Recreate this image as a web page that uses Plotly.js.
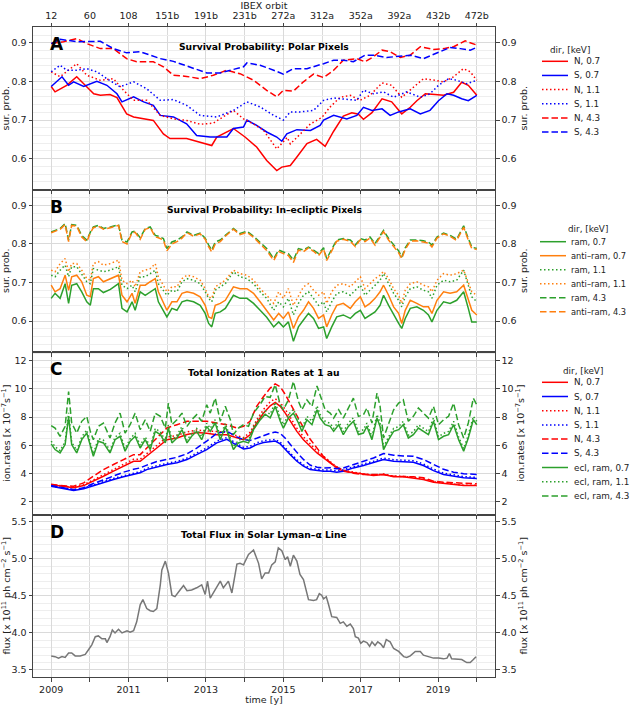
<!DOCTYPE html>
<html>
<head>
<meta charset="utf-8">
<script src="https://cdn.plot.ly/plotly-3.0.1.min.js"></script>
<style>
  html, body { margin: 0; padding: 0; background: #fff; }
  #chart { width: 630px; height: 705px; }
</style>
</head>
<body>
<div id="chart"></div>
<script>
// ---------- axis labels ----------
const years = [2009, 2010, 2011, 2012, 2013, 2014, 2015, 2016, 2017, 2018, 2019, 2020];
const labelYears = [2009, 2011, 2013, 2015, 2017, 2019];
const orbitLabels = ['12', '60', '108', '151b', '191b', '231b', '272a', '312a', '352a', '392a', '432b', '472b'];
const probTicks = [0.6, 0.7, 0.8, 0.9];
const probLabels = ['0.6', '0.7', '0.8', '0.9'];
const rateTicks = [2, 4, 6, 8, 10, 12];
const fluxTicks = [3.5, 4.0, 4.5, 5.0, 5.5];
const fluxLabels = ['3.5', '4.0', '4.5', '5.0', '5.5'];

// ---------- A: survival probability, polar pixels ----------
const tPolN07 = [2009.0,2009.1,2009.4,2009.66,2009.84,2010.1,2010.27,2010.52,2010.7,2010.95,2011.13,2011.39,2011.64,2011.9,2012.07,2012.5,2012.85,2013.15,2013.28,2013.71,2014.01,2014.31,2014.57,2014.83,2014.96,2015.18,2015.35,2015.61,2015.86,2016.08,2016.3,2016.55,2016.77,2016.94,2017.07,2017.29,2017.55,2017.8,2018.06,2018.28,2018.45,2018.67,2018.92,2019.14,2019.4,2019.61,2019.78,2020.0];
const pPolN07 = [0.787,0.773,0.79,0.812,0.794,0.768,0.764,0.766,0.758,0.716,0.708,0.703,0.699,0.664,0.652,0.652,0.643,0.634,0.656,0.678,0.656,0.63,0.595,0.569,0.578,0.582,0.604,0.639,0.65,0.632,0.671,0.71,0.719,0.715,0.702,0.719,0.755,0.747,0.716,0.733,0.75,0.768,0.766,0.764,0.772,0.798,0.79,0.764];
const tPolS07 = [2009.0,2009.28,2009.45,2009.58,2009.84,2010.18,2010.44,2010.7,2010.83,2011.13,2011.39,2011.64,2011.82,2012.16,2012.5,2012.76,2013.11,2013.54,2013.71,2013.97,2014.06,2014.31,2014.57,2014.83,2014.96,2015.09,2015.35,2015.7,2015.95,2016.04,2016.3,2016.64,2016.9,2017.07,2017.29,2017.55,2017.76,2017.98,2018.28,2018.54,2018.79,2019.01,2019.23,2019.4,2019.61,2019.78,2020.0];
const pPolS07 = [0.787,0.812,0.79,0.799,0.787,0.80,0.79,0.768,0.747,0.76,0.747,0.738,0.712,0.708,0.69,0.66,0.656,0.656,0.678,0.682,0.70,0.686,0.669,0.656,0.645,0.664,0.675,0.673,0.686,0.70,0.712,0.703,0.712,0.733,0.725,0.729,0.712,0.721,0.729,0.716,0.725,0.75,0.768,0.764,0.755,0.75,0.764];
const tPolN11 = [2009.0,2009.23,2009.66,2009.92,2010.27,2010.61,2010.87,2011.13,2011.47,2011.82,2012.16,2012.5,2012.85,2013.19,2013.71,2013.97,2014.23,2014.49,2014.83,2014.96,2015.1,2015.18,2015.43,2015.7,2016.0,2016.2,2016.47,2016.73,2016.98,2017.24,2017.55,2017.8,2018.06,2018.28,2018.62,2018.92,2019.14,2019.4,2019.65,2019.83,2020.0];
const pPolN11 = [0.825,0.812,0.846,0.816,0.803,0.807,0.777,0.751,0.751,0.712,0.703,0.699,0.689,0.692,0.725,0.703,0.69,0.673,0.625,0.64,0.655,0.638,0.664,0.69,0.707,0.733,0.759,0.764,0.751,0.764,0.796,0.79,0.759,0.777,0.807,0.803,0.799,0.812,0.833,0.825,0.803];
const tPolS11 = [2009.0,2009.23,2009.4,2009.66,2009.92,2010.18,2010.44,2010.78,2011.13,2011.47,2011.82,2012.16,2012.5,2012.85,2013.28,2013.71,2014.06,2014.4,2014.75,2015.0,2015.18,2015.43,2015.78,2016.04,2016.3,2016.64,2016.9,2017.07,2017.33,2017.59,2017.85,2018.19,2018.54,2018.79,2019.01,2019.27,2019.48,2019.74,2020.0];
const pPolS11 = [0.825,0.842,0.829,0.829,0.833,0.825,0.807,0.786,0.799,0.781,0.751,0.753,0.738,0.712,0.708,0.725,0.747,0.734,0.712,0.70,0.721,0.721,0.725,0.751,0.757,0.753,0.751,0.777,0.768,0.773,0.759,0.773,0.759,0.768,0.79,0.807,0.803,0.794,0.803];
const tPolN43 = [2009.0,2009.32,2009.66,2009.92,2010.27,2010.61,2010.95,2011.21,2011.64,2011.9,2012.16,2012.5,2012.85,2013.19,2013.54,2013.88,2014.23,2014.57,2014.83,2015.0,2015.26,2015.52,2015.78,2016.04,2016.3,2016.55,2016.9,2017.11,2017.33,2017.55,2017.76,2018.02,2018.28,2018.54,2018.88,2019.14,2019.4,2019.7,2020.0];
const pPolN43 = [0.898,0.903,0.911,0.898,0.885,0.885,0.859,0.851,0.851,0.838,0.816,0.813,0.807,0.816,0.829,0.82,0.803,0.777,0.76,0.777,0.775,0.799,0.819,0.81,0.829,0.855,0.859,0.851,0.864,0.881,0.877,0.862,0.868,0.89,0.883,0.885,0.89,0.905,0.894];
const tPolS43 = [2009.0,2009.23,2009.66,2010.27,2010.61,2010.95,2011.3,2011.82,2012.16,2012.59,2013.02,2013.37,2013.71,2013.97,2014.06,2014.4,2014.75,2015.0,2015.26,2015.61,2016.04,2016.3,2016.55,2016.81,2017.11,2017.33,2017.67,2018.02,2018.28,2018.62,2018.97,2019.31,2019.57,2019.83,2020.0];
const pPolS43 = [0.898,0.909,0.903,0.904,0.885,0.874,0.877,0.859,0.852,0.838,0.822,0.822,0.831,0.838,0.848,0.842,0.829,0.819,0.833,0.833,0.846,0.855,0.855,0.851,0.868,0.868,0.862,0.865,0.868,0.859,0.874,0.888,0.885,0.881,0.888];

// ---------- B: survival probability, in-ecliptic pixels ----------
const tEcl = [2009.0,2009.1,2009.23,2009.36,2009.45,2009.53,2009.66,2009.79,2009.92,2010.01,2010.09,2010.22,2010.35,2010.53,2010.74,2010.83,2010.96,2011.09,2011.17,2011.3,2011.43,2011.56,2011.69,2011.77,2011.9,2011.99,2012.12,2012.25,2012.38,2012.51,2012.68,2012.85,2012.98,2013.07,2013.15,2013.24,2013.37,2013.5,2013.71,2013.88,2014.06,2014.23,2014.4,2014.57,2014.75,2014.88,2015.0,2015.13,2015.26,2015.39,2015.52,2015.65,2015.78,2015.91,2016.04,2016.12,2016.25,2016.38,2016.55,2016.73,2016.86,2016.99,2017.11,2017.24,2017.37,2017.5,2017.59,2017.72,2017.85,2017.98,2018.06,2018.15,2018.28,2018.45,2018.62,2018.75,2018.84,2018.97,2019.14,2019.31,2019.48,2019.66,2019.78,2019.87,2020.0];
const pRam07 = [0.659,0.672,0.659,0.697,0.646,0.693,0.697,0.676,0.65,0.641,0.684,0.684,0.674,0.682,0.697,0.633,0.624,0.65,0.628,0.676,0.667,0.676,0.684,0.65,0.628,0.611,0.633,0.628,0.65,0.654,0.65,0.641,0.62,0.594,0.585,0.62,0.624,0.633,0.667,0.659,0.659,0.646,0.628,0.61,0.585,0.598,0.585,0.598,0.548,0.585,0.603,0.62,0.607,0.581,0.585,0.555,0.585,0.611,0.616,0.607,0.62,0.628,0.607,0.616,0.624,0.641,0.667,0.641,0.616,0.594,0.581,0.607,0.633,0.637,0.628,0.616,0.598,0.628,0.65,0.646,0.654,0.676,0.633,0.598,0.598];
const pAnti07 = [0.693,0.676,0.684,0.719,0.68,0.715,0.719,0.702,0.667,0.663,0.71,0.715,0.702,0.71,0.719,0.667,0.65,0.672,0.646,0.693,0.693,0.702,0.71,0.676,0.65,0.628,0.65,0.65,0.672,0.676,0.672,0.663,0.641,0.611,0.607,0.641,0.646,0.654,0.689,0.684,0.684,0.672,0.65,0.628,0.603,0.62,0.607,0.624,0.581,0.611,0.628,0.65,0.633,0.607,0.616,0.585,0.616,0.641,0.646,0.633,0.65,0.663,0.637,0.646,0.659,0.676,0.693,0.667,0.637,0.62,0.594,0.628,0.654,0.646,0.637,0.637,0.62,0.654,0.676,0.672,0.676,0.693,0.659,0.628,0.616];
const pRam11 = [0.719,0.715,0.732,0.745,0.715,0.741,0.741,0.723,0.702,0.697,0.736,0.732,0.728,0.732,0.741,0.693,0.684,0.693,0.676,0.715,0.715,0.723,0.732,0.697,0.68,0.667,0.68,0.676,0.702,0.71,0.706,0.697,0.676,0.659,0.65,0.68,0.689,0.697,0.728,0.715,0.71,0.697,0.676,0.659,0.628,0.65,0.637,0.659,0.616,0.646,0.667,0.676,0.659,0.641,0.65,0.624,0.65,0.672,0.676,0.667,0.68,0.693,0.667,0.68,0.693,0.706,0.723,0.697,0.672,0.654,0.637,0.663,0.684,0.689,0.68,0.676,0.659,0.693,0.706,0.702,0.706,0.732,0.689,0.663,0.65];
const pAnti11 = [0.732,0.728,0.749,0.762,0.728,0.749,0.749,0.732,0.71,0.706,0.749,0.754,0.745,0.749,0.758,0.706,0.697,0.706,0.689,0.728,0.732,0.736,0.749,0.715,0.693,0.676,0.689,0.689,0.71,0.719,0.715,0.706,0.684,0.663,0.659,0.689,0.697,0.706,0.732,0.723,0.719,0.706,0.684,0.667,0.646,0.676,0.659,0.684,0.641,0.667,0.689,0.697,0.68,0.667,0.676,0.646,0.676,0.693,0.697,0.689,0.702,0.715,0.684,0.697,0.71,0.719,0.729,0.71,0.684,0.667,0.646,0.68,0.697,0.702,0.693,0.689,0.676,0.706,0.723,0.719,0.723,0.732,0.702,0.676,0.667];
const pRam43 = [0.831,0.835,0.84,0.853,0.81,0.85,0.848,0.822,0.81,0.83,0.844,0.848,0.84,0.844,0.85,0.81,0.805,0.831,0.833,0.816,0.84,0.844,0.822,0.82,0.814,0.788,0.805,0.81,0.818,0.831,0.822,0.828,0.815,0.797,0.784,0.805,0.81,0.822,0.84,0.827,0.833,0.82,0.805,0.788,0.762,0.784,0.779,0.775,0.758,0.788,0.784,0.792,0.784,0.775,0.79,0.762,0.786,0.81,0.814,0.81,0.797,0.814,0.81,0.818,0.801,0.82,0.835,0.814,0.797,0.782,0.766,0.79,0.81,0.81,0.808,0.805,0.797,0.818,0.828,0.822,0.812,0.847,0.814,0.792,0.788];
const pAnti43 = [0.829,0.833,0.838,0.85,0.806,0.848,0.846,0.818,0.806,0.828,0.842,0.846,0.838,0.842,0.848,0.806,0.8,0.829,0.83,0.812,0.838,0.842,0.818,0.816,0.81,0.782,0.8,0.806,0.815,0.829,0.82,0.826,0.812,0.792,0.779,0.8,0.806,0.82,0.838,0.824,0.83,0.817,0.8,0.783,0.757,0.78,0.775,0.77,0.752,0.784,0.78,0.79,0.781,0.77,0.787,0.757,0.782,0.807,0.812,0.807,0.793,0.811,0.806,0.815,0.797,0.817,0.832,0.81,0.793,0.777,0.762,0.786,0.807,0.808,0.805,0.802,0.792,0.815,0.826,0.82,0.809,0.843,0.81,0.788,0.786];

// ---------- C: total ionization rates at 1 au [1e-7 s^-1] ----------
const tPole = [2009.0,2009.23,2009.58,2009.84,2010.09,2010.35,2010.61,2010.87,2011.13,2011.3,2011.47,2011.73,2011.99,2012.25,2012.51,2012.76,2013.02,2013.28,2013.54,2013.8,2013.97,2014.14,2014.31,2014.49,2014.66,2014.79,2014.92,2015.05,2015.18,2015.35,2015.52,2015.69,2015.87,2016.04,2016.21,2016.38,2016.55,2016.81,2017.07,2017.33,2017.59,2017.85,2018.1,2018.36,2018.62,2018.88,2019.14,2019.4,2019.66,2020.0];
const rN07 = [3.2,3.1,2.99,3.15,3.46,3.81,4.17,4.52,4.87,4.87,5.23,5.81,6.4,6.52,6.76,6.9,6.85,6.75,6.75,6.52,6.4,6.75,7.58,8.29,8.8,9.04,8.76,8.28,7.7,6.99,6.4,5.93,5.46,5.11,4.76,4.4,4.17,4.05,3.93,3.86,3.93,3.77,3.77,3.7,3.58,3.39,3.3,3.22,3.15,3.15];
const rS07 = [3.1,2.99,2.8,2.92,3.15,3.34,3.58,3.77,3.93,4.05,4.28,4.47,4.64,4.76,4.99,5.34,5.7,6.17,6.43,6.0,5.74,5.81,6.05,6.2,6.28,6.3,6.1,5.7,5.34,4.87,4.52,4.28,4.21,4.17,4.17,4.1,4.17,4.4,4.57,4.76,4.99,4.87,4.82,4.8,4.57,4.21,3.93,3.81,3.7,3.65];
const rN11 = [3.22,3.12,3.02,3.2,3.55,3.92,4.3,4.66,5.02,5.02,5.4,5.98,6.58,6.7,6.95,7.08,7.03,6.93,6.92,6.68,6.55,6.92,7.8,8.55,9.08,9.3,9.02,8.55,7.95,7.22,6.6,6.1,5.6,5.22,4.85,4.48,4.24,4.1,3.98,3.9,3.97,3.81,3.8,3.73,3.61,3.42,3.33,3.25,3.18,3.18];
const rS11 = [3.14,3.03,2.85,2.98,3.22,3.42,3.66,3.86,4.02,4.14,4.37,4.56,4.73,4.86,5.1,5.45,5.82,6.3,6.55,6.12,5.86,5.93,6.18,6.33,6.4,6.42,6.22,5.82,5.45,4.98,4.62,4.38,4.3,4.26,4.26,4.2,4.27,4.5,4.68,4.87,5.1,4.98,4.93,4.91,4.68,4.32,4.03,3.91,3.79,3.73];
const rN43 = [3.25,3.15,3.1,3.34,3.81,4.28,4.64,4.99,5.34,5.34,5.81,6.52,7.23,7.46,7.7,7.7,7.7,7.58,7.46,7.23,7.34,7.7,8.76,9.46,10.05,10.35,10.15,9.6,8.9,8.1,7.25,6.45,5.8,5.2,4.78,4.45,4.22,4.02,3.93,3.93,3.93,3.81,3.81,3.77,3.7,3.46,3.39,3.34,3.3,3.27];
const rS43 = [3.15,3.02,2.85,3.0,3.3,3.55,3.85,4.1,4.3,4.4,4.6,4.85,5.0,5.15,5.4,5.8,6.3,6.85,7.0,6.6,6.4,6.35,6.5,6.7,6.85,6.95,6.85,6.5,6.05,5.5,5.0,4.6,4.45,4.4,4.42,4.35,4.4,4.62,4.88,5.1,5.42,5.3,5.25,5.22,5.0,4.65,4.3,4.1,3.98,3.94];
const tRam = [2009.0,2009.1,2009.23,2009.36,2009.45,2009.53,2009.66,2009.79,2009.92,2010.01,2010.09,2010.22,2010.35,2010.52,2010.65,2010.78,2010.91,2011.04,2011.17,2011.3,2011.43,2011.56,2011.69,2011.82,2011.95,2012.03,2012.12,2012.25,2012.38,2012.51,2012.63,2012.76,2012.89,2013.02,2013.11,2013.24,2013.37,2013.5,2013.63,2013.71,2013.84,2013.97,2014.1,2014.23,2014.4,2014.53,2014.66,2014.79,2014.92,2015.0,2015.13,2015.26,2015.39,2015.48,2015.61,2015.74,2015.87,2015.95,2016.08,2016.21,2016.3,2016.43,2016.55,2016.68,2016.81,2016.94,2017.07,2017.16,2017.29,2017.42,2017.5,2017.59,2017.72,2017.85,2017.98,2018.1,2018.23,2018.36,2018.49,2018.62,2018.75,2018.88,2019.01,2019.14,2019.27,2019.4,2019.53,2019.66,2019.78,2019.91,2020.0];
const rRam07 = [6.1,5.7,5.46,6.05,8.0,6.05,5.46,6.4,6.87,5.93,5.22,6.29,6.17,5.46,6.4,6.64,5.58,6.29,6.64,5.81,6.4,5.7,6.99,6.76,6.17,7.23,6.17,6.52,7.11,6.17,6.64,6.99,6.4,7.34,6.99,7.58,6.4,7.34,6.4,5.7,6.17,6.29,6.17,7.11,7.8,8.2,7.95,8.76,7.7,7.22,7.93,8.28,7.58,6.99,7.81,7.46,8.52,7.93,7.46,7.34,6.99,7.46,6.76,7.34,7.7,6.76,6.87,7.34,6.4,7.93,7.34,5.7,6.4,6.99,7.11,7.46,6.52,6.76,7.22,6.99,6.76,7.7,6.4,6.64,6.76,7.46,6.4,5.58,6.52,7.81,7.46];
const rRam11 = [6.3,5.9,5.62,6.25,8.3,6.22,5.64,6.6,7.08,6.1,5.4,6.48,6.36,5.63,6.58,6.85,5.76,6.47,6.85,6.0,6.6,5.88,7.2,6.95,6.35,7.45,6.36,6.72,7.33,6.36,6.84,7.2,6.6,7.57,7.2,7.82,6.6,7.56,6.6,5.88,6.36,6.5,6.37,7.33,8.05,8.45,8.2,9.05,7.95,7.45,8.18,8.55,7.82,7.2,8.05,7.7,8.8,8.18,7.7,7.56,7.2,7.7,6.97,7.57,7.95,6.98,7.1,7.58,6.6,8.18,7.58,5.88,6.6,7.2,7.33,7.7,6.72,6.97,7.45,7.21,6.97,7.95,6.6,6.85,6.98,7.7,6.6,5.76,6.73,8.05,7.7];
const rRam43 = [7.4,7.22,6.64,7.34,9.8,7.58,6.87,7.7,8.05,6.99,6.4,7.34,7.58,6.52,7.58,8.28,6.87,7.46,8.28,7.11,7.81,6.99,8.28,8.05,7.22,8.99,7.46,7.81,8.28,7.34,7.81,8.17,7.7,8.87,8.28,9.34,7.7,8.76,7.81,6.76,7.22,7.46,7.34,8.28,8.9,9.46,9.4,10.29,8.87,8.52,9.22,10.52,9.11,8.52,9.22,8.76,10.2,9.6,8.52,8.28,7.93,8.52,7.93,8.64,9.34,8.05,8.17,8.64,7.58,9.7,8.76,6.52,7.46,8.52,8.99,9.22,7.7,8.05,8.64,8.28,7.93,8.76,7.46,7.81,8.05,8.99,7.46,6.52,7.58,9.34,8.87];

// ---------- D: solar Lyman-alpha total flux [1e11 ph cm^-2 s^-1] ----------
const tLya = [2009.0,2009.1,2009.19,2009.28,2009.36,2009.45,2009.53,2009.62,2009.75,2009.88,2009.96,2010.05,2010.14,2010.22,2010.31,2010.4,2010.44,2010.52,2010.58,2010.65,2010.74,2010.83,2010.96,2011.04,2011.13,2011.21,2011.3,2011.37,2011.47,2011.56,2011.64,2011.73,2011.82,2011.86,2011.95,2012.03,2012.12,2012.2,2012.33,2012.42,2012.51,2012.63,2012.76,2012.89,2012.98,2013.04,2013.11,2013.24,2013.37,2013.45,2013.58,2013.67,2013.8,2013.88,2013.97,2014.1,2014.23,2014.36,2014.44,2014.53,2014.62,2014.7,2014.79,2014.87,2014.96,2015.05,2015.11,2015.18,2015.26,2015.35,2015.43,2015.52,2015.65,2015.78,2015.86,2015.93,2015.99,2016.04,2016.11,2016.17,2016.25,2016.38,2016.47,2016.55,2016.64,2016.73,2016.81,2016.86,2016.94,2017.0,2017.07,2017.16,2017.23,2017.29,2017.37,2017.44,2017.52,2017.59,2017.66,2017.76,2017.85,2017.98,2018.11,2018.19,2018.28,2018.41,2018.54,2018.62,2018.75,2018.88,2019.01,2019.14,2019.23,2019.29,2019.35,2019.48,2019.61,2019.74,2019.83,2019.91,2019.98];
const fLya = [3.69,3.68,3.66,3.68,3.67,3.73,3.73,3.69,3.69,3.71,3.77,3.84,3.95,3.96,3.92,3.92,3.87,3.95,4.04,4.0,4.05,4.0,4.03,4.01,4.03,4.15,4.38,4.45,4.33,4.3,4.29,4.33,4.65,4.85,4.97,4.81,4.51,4.49,4.58,4.64,4.57,4.58,4.61,4.65,4.52,4.7,4.47,4.58,4.7,4.61,4.7,4.54,4.93,4.94,4.92,5.06,5.12,4.94,4.73,4.81,4.81,4.92,4.96,5.15,5.11,4.99,5.03,4.9,5.05,4.97,4.79,4.72,4.45,4.44,4.45,4.53,4.51,4.46,4.49,4.38,4.22,4.21,4.13,4.15,4.09,4.12,4.06,3.95,3.93,3.86,3.89,3.87,3.82,3.88,3.83,3.88,3.85,3.8,3.91,3.88,3.79,3.75,3.68,3.67,3.69,3.75,3.75,3.7,3.68,3.66,3.66,3.65,3.66,3.72,3.65,3.65,3.64,3.6,3.6,3.64,3.68];

// ---------- styling ----------
const FONT = 'DejaVu Sans, Verdana, sans-serif';
const RED = '#ff0000', BLUE = '#0000ff', GREEN = '#2ca02c', ORANGE = '#ff7f0e', GREY = '#777777';
const SOLID = 'solid', DOT = '1.5px,2.5px', DASH = '6.5px,3px';
const AXIS = '#444444', GRID = '#dadada', MINOR = '#eeeeee';
const XRANGE = [2008.53, 2020.47];

// plot-area pixel frame, used to place annotations and legend keys
const PL = 33, PR = 495, PT = 27, PB = 677;
const px = v => (v - PL) / (PR - PL);
const py = v => (PB - v) / (PB - PT);

const polar = [
  {name: 'N, 0.7', t: tPolN07, v: pPolN07, color: RED,  dash: SOLID},
  {name: 'S, 0.7', t: tPolS07, v: pPolS07, color: BLUE, dash: SOLID},
  {name: 'N, 1.1', t: tPolN11, v: pPolN11, color: RED,  dash: DOT},
  {name: 'S, 1.1', t: tPolS11, v: pPolS11, color: BLUE, dash: DOT},
  {name: 'N, 4.3', t: tPolN43, v: pPolN43, color: RED,  dash: DASH},
  {name: 'S, 4.3', t: tPolS43, v: pPolS43, color: BLUE, dash: DASH}
];
const ecliptic = [
  {name: 'ram, 0.7',      t: tEcl, v: pRam07,  color: GREEN,  dash: SOLID},
  {name: 'anti\u2013ram, 0.7', t: tEcl, v: pAnti07, color: ORANGE, dash: SOLID},
  {name: 'ram, 1.1',      t: tEcl, v: pRam11,  color: GREEN,  dash: DOT},
  {name: 'anti\u2013ram, 1.1', t: tEcl, v: pAnti11, color: ORANGE, dash: DOT},
  {name: 'ram, 4.3',      t: tEcl, v: pRam43,  color: GREEN,  dash: DASH},
  {name: 'anti\u2013ram, 4.3', t: tEcl, v: pAnti43, color: ORANGE, dash: DASH}
];
const rates = [
  {name: 'N, 0.7', t: tPole, v: rN07, color: RED,  dash: SOLID},
  {name: 'S, 0.7', t: tPole, v: rS07, color: BLUE, dash: SOLID},
  {name: 'N, 1.1', t: tPole, v: rN11, color: RED,  dash: DOT},
  {name: 'S, 1.1', t: tPole, v: rS11, color: BLUE, dash: DOT},
  {name: 'N, 4.3', t: tPole, v: rN43, color: RED,  dash: DASH},
  {name: 'S, 4.3', t: tPole, v: rS43, color: BLUE, dash: DASH},
  {name: 'ecl, ram, 0.7', t: tRam, v: rRam07, color: GREEN, dash: SOLID},
  {name: 'ecl, ram, 1.1', t: tRam, v: rRam11, color: GREEN, dash: DOT},
  {name: 'ecl, ram, 4.3', t: tRam, v: rRam43, color: GREEN, dash: DASH}
];

const traces = [];
function addSeries(list, xa, ya) {
  list.forEach(s => traces.push({
    type: 'scatter', mode: 'lines', x: s.t, y: s.v, xaxis: xa, yaxis: ya,
    name: s.name, showlegend: false, hoverinfo: 'skip',
    line: {color: s.color, dash: s.dash, width: 1.5}
  }));
}
addSeries(polar, 'x4', 'y7');
addSeries(ecliptic, 'x3', 'y5');
addSeries(rates, 'x2', 'y3');
traces.push({type: 'scatter', mode: 'lines', x: tLya, y: fLya, xaxis: 'x', yaxis: 'y',
  showlegend: false, hoverinfo: 'skip', line: {color: GREY, width: 1.5}});
// empty traces so the mirrored right-hand axes and the orbit axis get their own subplots
[['x', 'y2'], ['x2', 'y4'], ['x3', 'y6'], ['x4', 'y8'], ['x5', 'y7']].forEach(([xa, ya]) =>
  traces.push({type: 'scatter', mode: 'lines', x: [], y: [], xaxis: xa, yaxis: ya, showlegend: false, hoverinfo: 'skip'}));

// ---------- axes ----------
// labelled ticks every second year; the years in between get minor ticks with the same grid
function xAxis(anchor, labels) {
  return {
    domain: [0, 1], anchor: anchor, range: XRANGE,
    tickmode: 'array', tickvals: labelYears, ticktext: labelYears.map(String),
    showticklabels: labels, ticks: 'outside', ticklen: 3.5, tickcolor: AXIS,
    minor: {tickmode: 'array', tickvals: years, ticks: 'outside', ticklen: 3.5, tickcolor: AXIS,
            showgrid: true, gridcolor: GRID, gridwidth: 1},
    showline: true, linecolor: AXIS, linewidth: 1, mirror: true,
    showgrid: true, gridcolor: GRID, gridwidth: 1, zeroline: false,
    tickfont: {size: 9.5}
  };
}
function yAxis(domain, anchor, range, vals, text, minorDtick, minorTick0, title) {
  return {
    domain: domain, anchor: anchor, range: range,
    tickmode: 'array', tickvals: vals, ticktext: text,
    ticks: 'outside', ticklen: 3.5, tickcolor: AXIS,
    minor: {tickmode: 'linear', tick0: minorTick0, dtick: minorDtick, ticks: '', showgrid: true, gridcolor: MINOR, gridwidth: 1},
    showline: true, linecolor: AXIS, linewidth: 1,
    showgrid: true, gridcolor: GRID, gridwidth: 1, zeroline: false,
    tickfont: {size: 9.5},
    title: {text: title, font: {size: 9.5}, standoff: 4}
  };
}
function yRight(over, anchor, domain, range, vals, text, title) {
  return {
    overlaying: over, side: 'right', anchor: anchor, domain: domain, range: range,
    tickmode: 'array', tickvals: vals, ticktext: text,
    ticks: 'outside', ticklen: 3.5, tickcolor: AXIS,
    showline: true, linecolor: AXIS, linewidth: 1,
    showgrid: false, zeroline: false,
    tickfont: {size: 9.5},
    title: {text: title, font: {size: 9.5}, standoff: 4}
  };
}

const PROB = [0.52, 0.941], RATE = [1.1, 12.61], FLUX = [3.405, 5.6];
const RATE_T = 'ion.rates [x 10<sup>\u22127</sup>s<sup>\u22121</sup>]';
const FLUX_T = 'flux [x 10<sup>11</sup> ph cm<sup>\u22122</sup> s<sup>\u22121</sup>]';
const rateText = rateTicks.map(String);

const layout = {
  width: 630, height: 705,
  margin: {l: PL, r: 630 - PR, t: PT, b: 705 - PB, pad: 0},
  paper_bgcolor: '#ffffff', plot_bgcolor: '#ffffff',
  font: {family: FONT, size: 9.5, color: '#222222'},
  showlegend: false,
  xaxis: Object.assign(xAxis('y', true), {title: {text: 'time [y]', font: {size: 9.5}, standoff: 2}}),
  xaxis2: xAxis('y3', false),
  xaxis3: xAxis('y5', false),
  xaxis4: xAxis('y7', false),
  xaxis5: {
    overlaying: 'x4', anchor: 'y7', side: 'top', range: XRANGE,
    tickmode: 'array', tickvals: years, ticktext: orbitLabels,
    ticks: 'outside', ticklen: 3.5, tickcolor: AXIS, showline: false, showgrid: false, zeroline: false,
    tickfont: {size: 9.5},
    title: {text: 'IBEX orbit', font: {size: 9.5}, standoff: 3}
  },
  yaxis:  yAxis([0, 0.25], 'x', FLUX, fluxTicks, fluxLabels, 0.1, 3.5, FLUX_T),
  yaxis2: yRight('y', 'x', [0, 0.25], FLUX, fluxTicks, fluxLabels, FLUX_T),
  yaxis3: yAxis([0.25, 0.5], 'x2', RATE, rateTicks, rateText, 0.5, 2, RATE_T),
  yaxis4: yRight('y3', 'x2', [0.25, 0.5], RATE, rateTicks, rateText, RATE_T),
  yaxis5: yAxis([0.5, 0.75], 'x3', PROB, probTicks, probLabels, 0.02, 0.5, 'sur. prob.'),
  yaxis6: yRight('y5', 'x3', [0.5, 0.75], PROB, probTicks, probLabels, 'sur. prob.'),
  yaxis7: yAxis([0.75, 1], 'x4', PROB, probTicks, probLabels, 0.02, 0.5, 'sur. prob.'),
  yaxis8: yRight('y7', 'x4', [0.75, 1], PROB, probTicks, probLabels, 'sur. prob.'),
  annotations: [],
  shapes: []
};

// panel letters and headings
const panels = [
  {letter: 'A', title: 'Survival Probability: Polar Pixels', y: 44, ty: 46},
  {letter: 'B', title: 'Survival Probability: In\u2013ecliptic Pixels', y: 207, ty: 209},
  {letter: 'C', title: 'Total Ionization Rates at 1 au', y: 369, ty: 372},
  {letter: 'D', title: 'Total Flux in Solar Lyman\u2013\u03b1 Line', y: 532, ty: 534}
];
panels.forEach(p => {
  layout.annotations.push({
    text: '<b>' + p.letter + '</b>', xref: 'paper', yref: 'paper', x: px(48), y: py(p.y),
    xanchor: 'left', yanchor: 'middle', showarrow: false, font: {size: 17, color: '#000000'}
  });
  layout.annotations.push({
    text: '<b>' + p.title + '</b>', xref: 'paper', yref: 'paper', x: 0.5, y: py(p.ty),
    xanchor: 'center', yanchor: 'middle', showarrow: false, font: {size: 9.2, color: '#000000'}
  });
});

// compact legends at the right of panels A, B, C
function legendBlock(list, titleX, titleY, firstY, step, keyX0, textX, size) {
  layout.annotations.push({
    text: 'dir, [keV]', xref: 'paper', yref: 'paper', x: px(titleX), y: py(titleY),
    xanchor: 'center', yanchor: 'middle', showarrow: false, font: {size: 8.8}
  });
  list.forEach((s, i) => {
    const yy = py(firstY + i * step);
    layout.shapes.push({
      type: 'line', xref: 'paper', yref: 'paper', x0: px(keyX0), x1: px(keyX0 + 26), y0: yy, y1: yy,
      line: {color: s.color, dash: s.dash, width: 1.5}
    });
    layout.annotations.push({
      text: s.name, xref: 'paper', yref: 'paper', x: px(textX), y: yy,
      xanchor: 'left', yanchor: 'middle', showarrow: false, font: {size: size}
    });
  });
}
legendBlock(polar, 570, 50, 61.3, 14.15, 542, 572, 8.8);
legendBlock(ecliptic, 588, 228.5, 241.7, 14.0, 540, 569, 8.3);
legendBlock(rates, 583, 371, 382.3, 14.2, 542, 572, 8.8);

Plotly.newPlot('chart', traces, layout, {staticPlot: true, displayModeBar: false});
</script>
</body>
</html>
